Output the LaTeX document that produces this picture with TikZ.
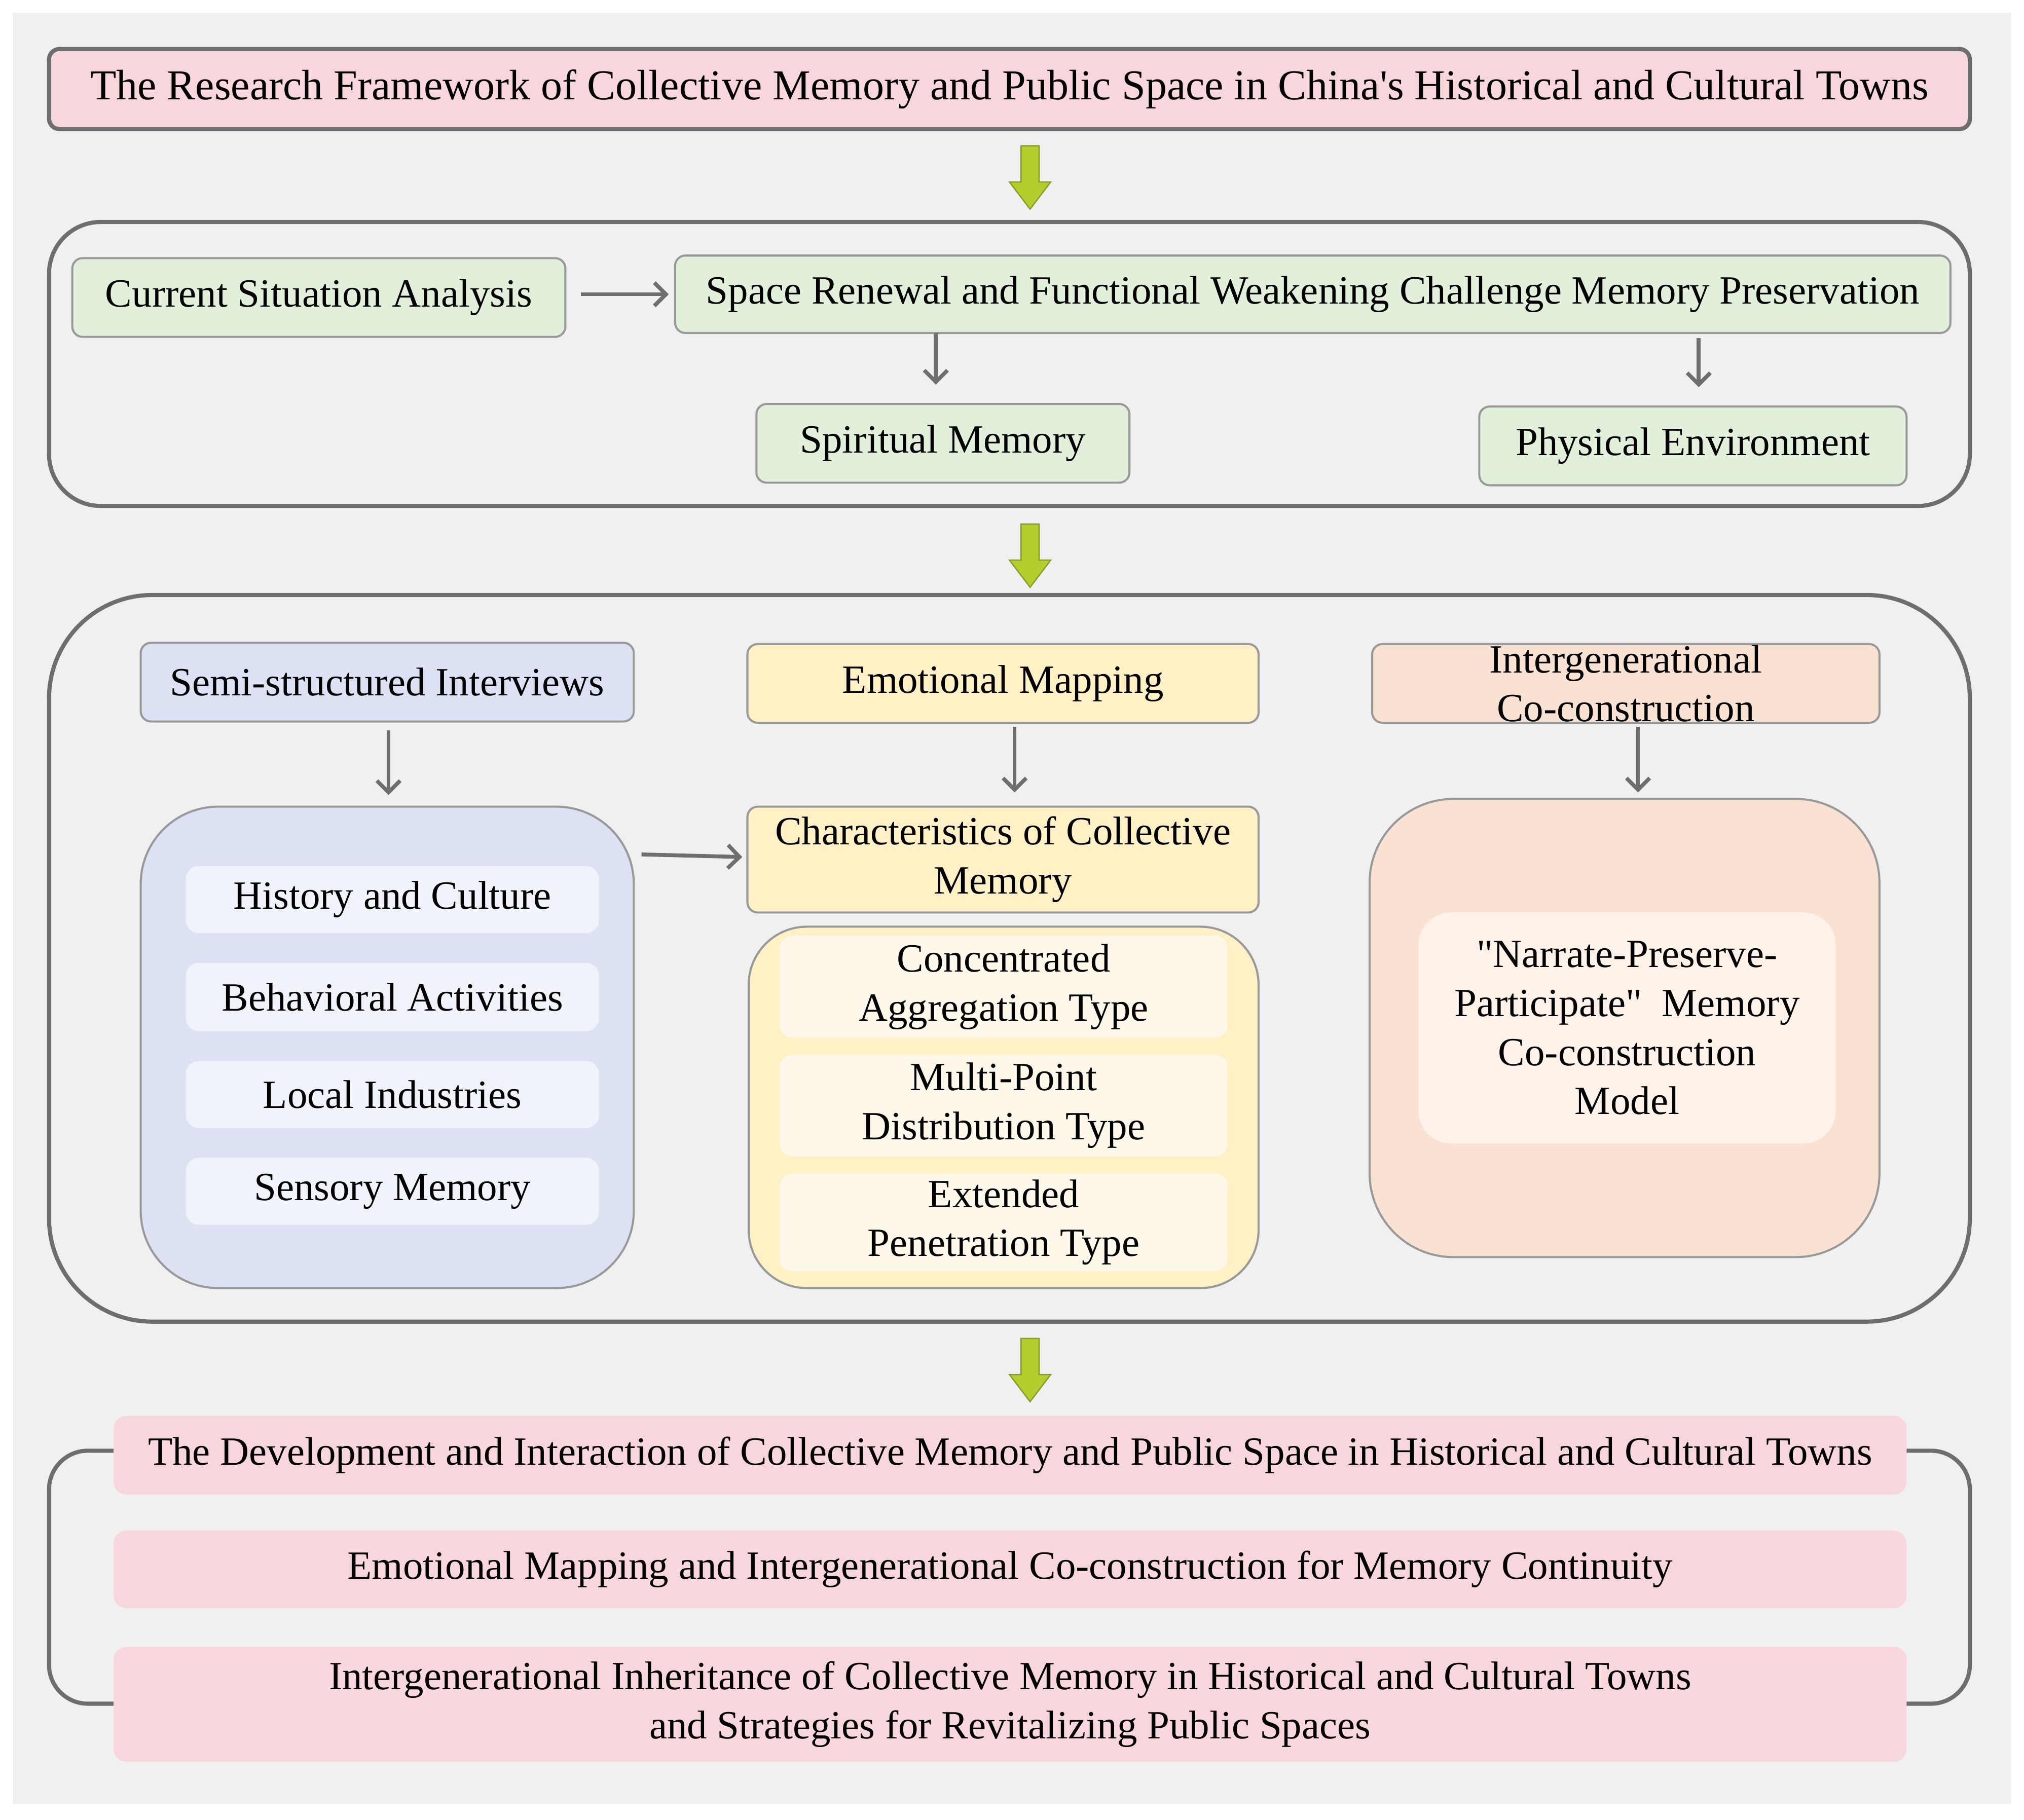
\documentclass[tikz,border=0pt]{standalone}
\usepackage{fontspec}
\setmainfont{Liberation Serif}
\newfontfamily\qf{Liberation Serif}
\usetikzlibrary{arrows.meta}
\definecolor{bggray}{HTML}{F0F0F0}
\definecolor{edge}{HTML}{6E6E6E}
\definecolor{pinkf}{HTML}{F8D7DC}
\definecolor{greenf}{HTML}{E2EFDA}
\definecolor{bluef}{HTML}{DCE2F4}
\definecolor{blueinner}{HTML}{F1F3FB}
\definecolor{yelf}{HTML}{FFF0C6}
\definecolor{yelinner}{HTML}{FDF8EA}
\definecolor{peachf}{HTML}{FAE2D2}
\definecolor{peachinner}{HTML}{FDF2EA}
\definecolor{lime}{HTML}{B2CF2E}
\definecolor{limeedge}{HTML}{8C9C2C}
\begin{document}
\begin{tikzpicture}[x=1pt,y=-1pt,
  every node/.style={font=\fontsize{31}{38}\selectfont, align=center, inner sep=0pt},
  box/.style={draw=edge!70, line width=1.6pt, rounded corners=8pt},
  frame/.style={draw=edge, line width=3.2pt},
  inner/.style={rounded corners=10pt},
  arr/.style={draw=edge, line width=3pt, -{Straight Barb[length=9pt,width=18pt]}},
  blk/.style={fill=lime, draw=limeedge, line width=1pt}]
\fill[white] (0,0) rectangle (1568,1410);
\useasboundingbox (0,0) rectangle (1568,1410);
\fill[bggray] (10,10) rectangle (1558,1398);
\newcommand{\bx}[6]{\node[#1, minimum width={#4-#2}, minimum height={#5-#3}] (#6) at ({(#2+#4)/2},{(#3+#5)/2+3})}
% title
\bx{box,frame,fill=pinkf,rounded corners=8pt,font=\fontsize{33}{38}\selectfont}{38}{35}{1526}{97}{title} {The Research Framework of Collective Memory and Public Space in China\textquotesingle s Historical and Cultural Towns};
% lime arrows
\foreach \y in {113,406,1037}{
  \draw[blk] (791,\y) -- (805,\y) -- (805,\y+28) -- (814,\y+28) -- (798,\y+49) -- (782,\y+28) -- (791,\y+28) -- cycle;}
% frame 2
\draw[frame, rounded corners=40pt] (38,172) rectangle (1526,392);
\bx{box,fill=greenf}{56}{197}{438}{258}{csa} {Current Situation Analysis};
\bx{box,fill=greenf}{523}{195}{1511}{255}{srf} {Space Renewal and Functional Weakening Challenge Memory Preservation};
\bx{box,fill=greenf}{586}{310}{875}{371}{spm} {Spiritual Memory};
\bx{box,fill=greenf}{1146}{312}{1477}{373}{phe} {Physical Environment};
\coordinate (c0) at (450,228); \coordinate (c0e) at (518,228);
\coordinate (c1) at (725,258); \coordinate (c2) at (1316,262);
\draw[arr] (c0) -- (c0e);
\draw[arr] (c1) -- (725,298);
\draw[arr] (c2) -- (1316,300);
% frame 3
\draw[frame, rounded corners=80pt] (38,461) rectangle (1526,1024);
\bx{box,fill=bluef}{109}{495}{491}{556}{ssi} {Semi-structured Interviews};
\bx{box,fill=yelf}{579}{496}{975}{557}{emm} {Emotional Mapping};
\bx{box,fill=peachf}{1063}{496}{1456}{557}{igc} {Intergenerational\\Co-construction};
\bx{box,fill=bluef,rounded corners=60pt}{109}{622}{491}{995}{bbig} {};
\bx{inner,fill=blueinner}{144}{668}{464}{720}{b1} {History and Culture};
\bx{inner,fill=blueinner}{144}{743}{464}{796}{b2} {Behavioral Activities};
\bx{inner,fill=blueinner}{144}{819}{464}{871}{b3} {Local Industries};
\bx{inner,fill=blueinner}{144}{894}{464}{946}{b4} {Sensory Memory};
\bx{box,fill=yelf}{579}{622}{975}{704}{ccm} {Characteristics of Collective\\Memory};
\bx{box,fill=yelf,rounded corners=45pt}{580}{715}{975}{995}{ybig} {};
\bx{inner,fill=yelinner}{604}{722}{951}{801}{y1} {Concentrated\\Aggregation Type};
\bx{inner,fill=yelinner}{604}{814}{951}{893}{y2} {Multi-Point\\Distribution Type};
\bx{inner,fill=yelinner}{604}{906}{951}{982}{y3} {Extended\\Penetration Type};
\bx{box,fill=peachf,rounded corners=65pt}{1061}{616}{1456}{971}{pbig} {};
\bx{inner,fill=peachinner,rounded corners=25pt}{1099}{704}{1422}{883}{p1} {{\qf"}Narrate-Preserve-\\Participate{\qf"}\ \ Memory\\Co-construction\\Model};
\draw[arr] (301,566) -- (301,616);
\draw[arr] (786,563) -- (786,614);
\draw[arr] (1269,563) -- (1269,614);
\coordinate (bo) at (497,662);
\draw[arr] (bo) -- (575,664);
% bottom
\draw[frame, rounded corners=30pt] (38,1124) rectangle (1526,1320);
\bx{inner,fill=pinkf}{88}{1094}{1477}{1155}{r1} {The Development and Interaction of Collective Memory and Public Space in Historical and Cultural Towns};
\bx{inner,fill=pinkf}{88}{1183}{1477}{1243}{r2} {Emotional Mapping and Intergenerational Co-construction for Memory Continuity};
\bx{inner,fill=pinkf}{88}{1273}{1477}{1362}{r3} {Intergenerational Inheritance of Collective Memory in Historical and Cultural Towns\\and Strategies for Revitalizing Public Spaces};
\end{tikzpicture}
\end{document}
